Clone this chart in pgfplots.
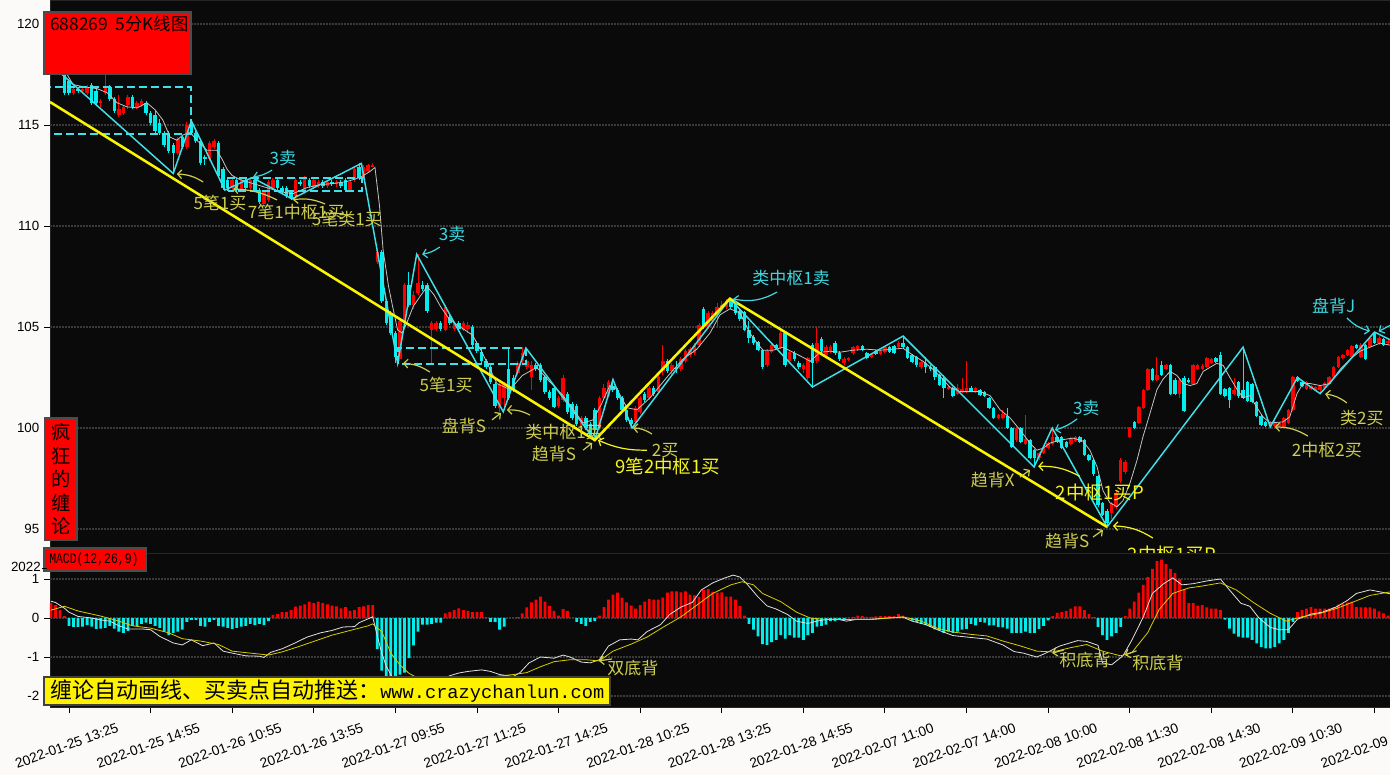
\documentclass[border=0pt]{standalone}
\usepackage{pgfplots}
\pgfplotsset{compat=1.18}
\usepackage{pgfplotstable}
\usepackage{graphicx}
\usepackage{fontspec}
\setmainfont{Liberation Sans}
\newfontfamily\cjk{Noto Sans CJK SC}
\newfontfamily\mono{Liberation Mono}
\usetikzlibrary{arrows.meta}
\definecolor{bg}{RGB}{252,250,248}
\definecolor{panel}{RGB}{10,10,10}
\definecolor{gridc}{RGB}{58,58,58}
\definecolor{kred}{RGB}{255,0,0}
\definecolor{kcyan}{RGB}{0,238,238}
\definecolor{zz}{RGB}{64,224,232}
\definecolor{ylw}{RGB}{250,245,0}
\definecolor{khaki}{RGB}{205,205,80}
\definecolor{bright}{RGB}{245,245,30}
\definecolor{ctext}{RGB}{60,215,225}
\definecolor{maline}{RGB}{195,195,195}
\definecolor{difc}{RGB}{225,225,225}
\definecolor{deac}{RGB}{215,205,0}

\pgfplotstableread{
j o h l c m
-4 118.3 118.6 118.0 118.2 0.38
-3 118.2 118.4 117.7 117.8 0.33
-2 117.8 118.0 117.5 117.6 0.20
-1 117.5 117.6 116.5 116.6 0.05
0 117.2 117.3 116.5 116.6 -0.20
1 116.6 116.9 116.5 116.8 -0.23
2 116.8 116.9 116.6 116.7 -0.23
3 116.7 116.9 116.6 116.8 -0.22
4 116.6 117.0 116.5 116.9 -0.18
5 117.0 117.1 116.0 116.1 -0.22
6 116.7 116.8 116.0 116.1 -0.28
7 116.1 116.3 115.9 116.2 -0.27
8 116.6 117.5 116.5 116.9 -0.25
9 116.9 117.0 116.2 116.3 -0.20
10 116.3 116.4 115.6 115.7 -0.27
11 115.5 116.5 115.4 115.8 -0.35
12 115.6 116.0 115.5 115.9 -0.38
13 116.0 116.5 115.8 116.4 -0.33
14 116.4 116.5 115.8 115.9 -0.20
15 115.9 116.2 115.8 116.1 -0.20
16 116.0 116.3 115.9 116.2 -0.15
17 116.1 116.2 115.5 115.6 -0.12
18 115.6 115.7 115.0 115.1 -0.15
19 115.5 115.7 114.6 114.7 -0.20
20 115.1 115.3 114.5 114.6 -0.25
21 114.6 114.7 113.9 114.0 -0.35
22 114.6 114.7 113.6 113.7 -0.44
23 114.0 114.1 112.6 113.6 -0.38
24 113.6 114.4 113.5 114.3 -0.35
25 114.4 114.5 113.8 113.9 -0.30
26 113.9 115.15 113.8 115.0 -0.10
27 115.1 115.2 114.5 114.6 -0.05
28 114.6 114.7 114.1 114.2 -0.05
29 114.2 114.3 113.0 113.1 -0.20
30 113.4 113.5 113.0 113.3 -0.22
31 113.3 114.2 113.2 114.1 -0.10
32 113.9 114.3 113.8 114.2 -0.05
33 114.1 114.2 112.4 112.5 -0.20
34 112.8 112.9 111.8 111.9 -0.22
35 112.3 112.4 111.85 111.9 -0.25
36 111.9 112.4 111.8 112.3 -0.28
37 112.3 112.4 111.7 111.8 -0.25
38 111.8 112.35 111.7 112.3 -0.22
39 112.3 112.35 111.8 111.9 -0.20
40 111.9 112.4 111.8 112.3 -0.15
41 112.3 112.35 111.7 111.8 -0.18
42 111.8 111.9 111.1 111.2 -0.15
43 111.1 111.8 111.0 111.7 -0.18
44 111.3 112.3 111.2 112.2 -0.08
45 111.9 112.4 111.8 112.3 0.08
46 112.3 112.4 111.8 111.9 0.10
47 111.9 112.0 111.6 111.7 0.15
48 111.9 112.0 111.4 111.5 0.15
49 111.7 111.8 111.3 111.4 0.20
50 111.5 112.4 111.4 112.3 0.29
51 112.2 112.3 112.0 112.1 0.32
52 111.7 112.5 111.6 112.4 0.35
53 112.3 112.4 111.9 112.0 0.42
54 112.0 112.4 111.9 112.3 0.38
55 112.0 112.3 111.9 112.2 0.42
56 112.2 112.3 111.9 112.0 0.38
57 112.0 112.3 111.9 112.2 0.35
58 112.2 112.3 112.0 112.1 0.32
59 112.1 112.3 111.95 112.2 0.30
60 112.2 112.3 111.9 112.0 0.25
61 112.3 112.4 111.7 111.8 0.28
62 111.8 112.3 111.7 112.2 0.18
63 112.3 112.9 112.2 112.8 0.20
64 112.9 113.1 112.3 112.4 0.28
65 112.4 113.0 112.3 112.9 0.30
66 112.7 113.05 112.6 113.0 0.33
67 112.95 113.1 112.9 113.0 0.33
68 108.2 108.8 108.1 108.7 -0.80
69 108.7 108.8 106.2 106.3 -1.35
70 106.3 106.4 105.1 105.2 -1.70
71 105.7 105.8 104.6 104.7 -1.90
72 104.7 104.8 103.2 103.5 -1.80
73 103.4 105.4 103.3 105.3 -1.45
74 105.3 107.2 105.2 107.1 -1.40
75 107.1 107.7 106.0 106.1 -1.03
76 106.1 106.8 105.9 106.6 -0.70
77 106.7 108.6 106.6 107.2 -0.35
78 107.1 107.3 106.8 106.9 -0.17
79 107.1 107.2 105.7 105.8 -0.17
80 104.85 105.3 103.2 105.2 -0.15
81 104.9 105.3 104.8 105.2 -0.12
82 105.2 105.3 104.8 104.9 -0.12
83 104.85 106.1 104.8 106.0 0.12
84 105.5 105.6 105.1 105.2 0.15
85 104.9 105.3 104.8 105.2 0.20
86 105.2 105.3 104.85 104.9 0.25
87 104.85 105.3 104.8 105.2 0.20
88 104.9 105.25 104.7 105.1 0.18
89 105.0 105.1 104.0 104.1 0.15
90 104.2 104.3 103.7 103.8 0.15
91 103.75 103.9 103.2 103.3 0.15
92 103.3 103.4 102.9 103.0 0.02
93 103.0 103.1 102.2 102.3 -0.10
94 102.2 102.3 101.0 101.1 -0.10
95 101.0 102.3 100.8 102.2 -0.30
96 101.5 102.3 101.0 102.2 -0.22
97 102.9 103.9 101.4 101.5 0.00
98 102.5 102.6 101.8 101.9 0.00
99 102.7 103.3 102.6 103.2 0.02
100 103.3 104.0 103.2 103.7 0.12
101 103.0 103.4 102.9 103.3 0.27
102 102.5 103.3 101.9 103.1 0.40
103 103.1 103.2 102.8 102.9 0.47
104 103.1 103.2 102.3 102.4 0.55
105 102.5 102.6 101.7 101.8 0.42
106 101.8 101.9 101.4 101.5 0.31
107 102.0 102.1 101.0 101.05 0.18
108 101.1 101.6 101.0 101.5 0.06
109 101.4 102.6 101.3 102.5 0.23
110 101.7 101.8 100.7 100.8 0.18
111 101.2 101.3 100.4 100.5 0.00
112 101.1 101.2 100.1 100.2 -0.10
113 100.1 100.6 100.0 100.5 -0.15
114 100.5 100.6 99.9 100.0 -0.20
115 100.2 100.3 99.5 99.6 -0.10
116 100.9 101.0 99.4 99.9 -0.08
117 100.0 101.6 99.9 101.5 0.06
118 101.5 102.2 101.4 102.0 0.28
119 101.6 102.4 101.5 102.3 0.47
120 102.1 102.4 101.8 101.9 0.60
121 101.9 102.0 101.4 101.5 0.65
122 101.5 101.6 100.8 100.9 0.52
123 100.9 101.0 100.3 100.4 0.40
124 100.4 100.5 100.0 100.2 0.32
125 100.3 101.1 100.2 101.0 0.24
126 100.8 101.6 100.7 101.5 0.33
127 101.7 101.8 101.3 101.4 0.42
128 101.5 102.1 101.4 102.0 0.49
129 102.0 102.1 101.6 101.7 0.47
130 101.8 102.6 101.7 102.5 0.47
131 102.8 104.1 102.6 103.3 0.52
132 103.3 103.4 102.7 102.8 0.65
133 102.8 103.2 102.6 103.1 0.68
134 103.0 103.3 102.7 102.9 0.68
135 102.9 103.5 102.8 103.4 0.66
136 103.3 103.9 103.2 103.8 0.68
137 103.6 104.0 103.5 103.9 0.60
138 103.7 104.2 103.6 104.1 0.58
139 104.1 105.2 104.0 105.1 0.54
140 105.9 106.0 104.9 105.0 0.72
141 105.0 105.8 104.9 105.7 0.74
142 105.3 105.8 105.2 105.7 0.67
143 105.7 106.2 105.0 106.0 0.65
144 105.9 106.3 105.8 106.1 0.66
145 106.0 106.4 105.9 106.3 0.55
146 106.3 106.4 105.9 106.0 0.55
147 106.2 106.3 105.6 105.7 0.47
148 105.8 105.9 105.3 105.4 0.31
149 105.75 105.8 104.8 104.85 0.06
150 104.85 105.3 104.2 104.45 -0.15
151 104.5 104.6 104.1 104.2 -0.30
152 104.25 104.3 103.8 103.85 -0.47
153 103.85 103.9 102.9 103.0 -0.67
154 103.1 103.9 103.0 103.8 -0.69
155 103.75 104.2 103.7 104.1 -0.62
156 104.1 104.15 103.9 103.95 -0.56
157 103.95 104.8 103.9 104.7 -0.44
158 104.7 104.75 103.0 103.1 -0.53
159 103.3 103.8 103.2 103.75 -0.44
160 103.7 103.8 103.3 103.4 -0.50
161 103.2 103.3 102.9 103.0 -0.50
162 102.9 103.2 102.7 103.1 -0.56
163 102.5 103.5 102.4 103.45 -0.44
164 104.1 104.2 102.0 103.2 -0.38
165 103.3 105.0 103.2 104.2 -0.22
166 104.4 104.5 103.7 103.8 -0.20
167 103.6 104.1 103.5 104.0 -0.17
168 103.8 104.1 103.7 104.0 -0.08
169 104.2 104.3 103.6 103.7 -0.08
170 103.7 103.8 103.3 103.4 -0.04
171 103.2 103.5 103.1 103.4 -0.04
172 103.35 103.5 103.3 103.45 0.01
173 103.7 104.05 103.6 104.0 0.03
174 103.9 104.1 103.8 104.05 0.06
175 104.05 104.1 103.8 103.85 0.05
176 103.7 103.75 103.4 103.45 0.03
177 103.5 103.7 103.45 103.65 0.03
178 103.8 103.85 103.6 103.65 0.04
179 103.65 103.85 103.6 103.8 0.05
180 103.75 104.05 103.7 104.0 0.05
181 104.0 104.05 103.7 103.75 0.05
182 104.05 104.1 103.65 103.7 0.05
183 104.0 104.3 103.9 104.2 0.10
184 104.2 104.55 103.95 104.0 0.06
185 104.0 104.05 103.4 103.45 0.00
186 103.6 103.65 103.2 103.25 -0.07
187 103.5 103.55 103.0 103.1 -0.10
188 103.0 103.3 102.9 103.25 -0.15
189 103.2 103.5 102.7 103.0 -0.18
190 103.0 103.1 102.8 102.9 -0.23
191 103.0 103.05 102.4 102.5 -0.29
192 102.6 102.65 102.1 102.15 -0.32
193 102.5 102.6 101.5 102.0 -0.38
194 101.95 102.1 101.9 102.05 -0.35
195 102.0 102.05 101.55 101.6 -0.38
196 101.7 102.2 101.65 102.0 -0.35
197 101.8 102.5 101.75 101.95 -0.30
198 101.8 103.3 101.75 102.0 -0.28
199 102.0 102.1 101.8 101.85 -0.15
200 101.8 102.05 101.75 102.0 -0.19
201 101.9 101.95 101.6 101.65 -0.10
202 101.8 101.85 101.55 101.6 -0.12
203 101.5 101.55 100.95 101.0 -0.19
204 101.0 101.05 100.45 100.5 -0.19
205 100.5 100.7 100.45 100.65 -0.23
206 100.5 100.9 100.45 100.7 -0.24
207 100.6 101.0 99.95 100.0 -0.27
208 100.0 100.05 99.0 99.05 -0.38
209 99.4 100.05 99.3 100.0 -0.38
210 100.0 100.05 99.25 99.3 -0.38
211 99.2 100.65 99.15 99.45 -0.35
212 99.4 99.45 98.45 98.5 -0.38
213 98.9 98.95 98.07 98.5 -0.38
214 98.5 98.8 98.4 98.75 -0.28
215 98.75 99.05 98.7 99.0 -0.20
216 99.0 99.3 98.95 99.25 -0.06
217 99.2 100.0 99.15 99.55 0.05
218 99.55 99.6 99.25 99.3 0.13
219 99.55 99.6 98.95 99.0 0.15
220 99.3 99.35 99.0 99.05 0.18
221 99.2 99.55 99.15 99.5 0.24
222 99.35 99.6 99.3 99.55 0.30
223 99.55 99.6 99.25 99.3 0.30
224 99.4 99.45 98.6 98.65 0.20
225 98.65 98.7 98.35 98.4 0.10
226 98.4 98.45 97.6 97.7 0.02
227 97.6 97.65 96.1 96.2 -0.23
228 96.3 96.35 95.65 95.7 -0.44
229 95.9 96.0 95.1 95.3 -0.56
230 95.8 96.35 95.5 96.3 -0.47
231 96.1 96.9 96.0 96.8 -0.38
232 97.4 98.5 97.3 98.4 -0.23
233 97.8 98.4 97.7 98.3 0.05
234 99.55 100.05 99.5 100.0 0.24
235 100.3 100.35 99.95 100.0 0.42
236 100.25 101.1 100.2 101.05 0.65
237 101.0 101.95 100.95 101.9 0.85
238 101.9 102.95 101.85 102.9 1.05
239 102.9 102.95 102.35 102.4 1.26
240 102.4 103.5 102.35 102.6 1.46
241 103.1 103.3 102.55 102.6 1.50
242 102.9 103.15 102.85 103.1 1.38
243 103.1 103.15 101.65 101.7 1.26
244 102.4 102.45 101.65 101.7 1.15
245 101.7 102.5 101.5 102.4 1.00
246 102.5 102.55 100.8 100.85 0.74
247 102.4 102.5 102.25 102.3 0.38
248 102.2 103.15 102.15 103.1 0.38
249 102.9 103.15 102.85 103.1 0.32
250 102.9 103.15 102.85 103.05 0.33
251 103.0 103.5 102.95 103.45 0.27
252 103.2 103.45 103.15 103.4 0.24
253 103.45 103.5 103.2 103.25 0.24
254 103.6 103.75 101.65 101.7 0.21
255 101.95 102.0 101.55 101.6 -0.04
256 102.0 102.05 101.0 101.4 -0.27
257 101.7 102.5 101.65 101.9 -0.40
258 102.3 102.35 101.5 101.6 -0.48
259 101.9 104.0 101.45 101.5 -0.50
260 102.3 102.35 101.3 101.35 -0.50
261 102.2 102.25 101.25 101.3 -0.56
262 101.3 101.35 100.55 100.6 -0.65
263 100.6 100.65 100.1 100.15 -0.74
264 100.3 100.35 100.05 100.1 -0.78
265 100.1 100.35 100.05 100.3 -0.78
266 100.1 100.35 100.05 100.3 -0.74
267 100.1 100.3 100.05 100.25 -0.65
268 100.05 100.55 100.0 100.5 -0.56
269 100.25 100.95 100.2 100.9 -0.38
270 100.9 102.55 100.85 102.5 -0.10
271 102.5 102.55 102.3 102.35 0.15
272 102.3 102.35 102.05 102.1 0.20
273 101.95 102.35 101.9 102.3 0.24
274 101.95 102.15 101.9 102.1 0.28
275 101.9 102.1 101.85 102.05 0.24
276 101.9 102.15 101.7 102.1 0.24
277 102.0 102.3 101.95 102.25 0.24
278 102.2 102.55 102.15 102.5 0.24
279 102.5 103.05 102.45 103.0 0.28
280 103.0 103.55 102.95 103.5 0.34
281 103.45 103.65 103.4 103.6 0.37
282 103.6 103.9 103.55 103.85 0.40
283 103.5 104.1 103.45 104.05 0.42
284 104.1 104.15 103.9 103.95 0.28
285 103.5 104.2 103.45 104.1 0.27
286 104.1 104.15 103.35 103.4 0.27
287 104.0 104.5 103.95 104.45 0.27
288 104.7 104.75 104.15 104.2 0.24
289 104.2 104.55 104.1 104.45 0.17
290 104.4 104.45 104.05 104.1 0.12
291 104.2 104.4 104.1 104.3 0.06
}\kdata

\pgfplotstableread{
j v
-4 118.3
-2 117.9
-0.4 117.5
0.9 117.0
3.1 116.9
6.2 116.8
8.4 116.6
10.6 116.1
12.8 115.9
15 115.85
17.2 116.1
19 115.75
20.7 115.25
22.3 114.4
23.8 114.25
25.1 114.5
26.7 114.65
28.2 114.25
30.4 113.75
32.6 113.75
33.8 113.3
34.9 112.8
36 112.5
37.7 112.3
42.1 112.0
46.5 111.7
49.4 111.6
52.5 111.9
55.4 112.05
58.2 112.1
61.3 112.2
64.2 112.4
66.4 112.7
67.5 112.9
68.5 111.0
69.3 108.8
70.5 107.0
71.5 105.9
72.5 104.85
73.5 104.7
74.6 105.25
75.9 106.0
77.4 106.5
79 107.0
80.5 106.6
82 106.0
84 105.35
87 104.9
89 104.6
91 103.8
94.4 102.2
97.3 101.9
100 102.6
103.2 103.0
106 102.3
109 101.6
111 101.0
113.4 100.25
115.6 100.4
117.5 101.2
119.3 102.1
120.9 101.9
123.1 101.0
125.3 100.9
128.2 101.5
132.6 102.7
135.4 103.4
138.5 103.9
141.4 104.7
143.6 105.6
145.8 105.9
148 105.7
150.2 104.7
151.8 104.2
153.1 103.85
155.3 103.85
157.5 104.0
159.7 103.75
161.9 103.5
163.5 103.3
165.7 103.75
167.9 103.8
170.1 103.75
172.9 103.85
176 103.9
178.9 103.85
181.8 103.9
184 103.95
186.2 103.6
188.4 103.3
190.6 102.9
192.8 102.4
194.4 102.0
196.6 101.8
201 101.8
203.2 101.6
205.4 100.9
207.6 100.5
209.8 99.9
212 99.25
213.5 98.9
214.9 99.0
216.4 99.25
218.6 99.4
221.5 99.5
223.7 99.35
225.2 98.9
226.8 98.07
228.1 96.9
229.6 96.3
231.2 96.1
232.5 96.4
234.1 97.3
235.6 98.4
236.9 99.55
238.5 100.75
240 101.9
241.3 102.4
242.9 102.8
244.4 102.6
245.8 102.2
247.3 102.1
248.8 102.2
250.2 102.8
251.7 103.0
253.2 103.2
254.6 103.1
256.1 102.5
257.7 101.9
259 101.5
260.5 101.6
262.1 101.0
263.4 100.55
264.9 100.25
267.8 100.3
269.3 100.55
270.9 101.7
272.2 102.2
273.8 102.2
276 102.1
278.2 102.2
280.4 102.9
282.6 103.4
284.8 103.8
287 104.0
289.2 104.2
291.4 104.1
}\ma

\pgfplotstableread{
j v
-4 0.43
-3 0.40
-1 0.25
0 0.15
2 0.04
5 0.0
7 -0.05
9 -0.08
11 -0.2
13 -0.28
16 -0.28
18 -0.3
20 -0.47
23 -0.64
25 -0.69
27 -0.56
29.5 -0.71
32 -0.64
34 -0.85
36 -0.9
39 -0.97
42 -0.98
43 -1.01
44.5 -0.88
47 -0.79
49.5 -0.66
52.5 -0.49
55.5 -0.38
58 -0.32
60.5 -0.23
63 -0.22
64 -0.12
66 -0.02
67 0.03
68 -0.45
69 -0.9
70 -1.24
71 -1.45
72 -1.7
74 -1.95
76 -2.0
78 -1.9
80 -1.75
82 -1.6
84 -1.48
86 -1.41
88 -1.37
91 -1.33
93 -1.37
95 -1.45
98 -1.5
99.5 -1.4
101.5 -1.15
104 -1.0
107 -1.03
109 -0.95
110.5 -1.0
113 -1.13
115 -1.15
117 -1.07
119 -0.72
121.5 -0.56
124 -0.54
125.5 -0.56
127.5 -0.35
130.5 -0.17
132.5 0.09
135 0.28
137.5 0.4
139.5 0.72
142 0.9
144.5 1.02
146.5 1.1
148 1.05
149.5 0.88
152 0.54
154 0.31
156 0.23
158.5 0.09
160.5 -0.08
163 -0.14
165 -0.08
167 -0.04
169.5 -0.03
171.5 -0.08
174 -0.03
177 -0.03
180.5 0.0
184 0.02
186 -0.08
189 -0.17
192 -0.32
195 -0.45
199 -0.5
202.5 -0.54
206 -0.69
208.5 -0.86
210.5 -0.9
213.5 -1.0
215.5 -0.9
218.5 -0.72
222.5 -0.58
224.5 -0.6
227 -0.7
228 -1.15
230 -1.2
232.5 -0.97
234.5 -0.56
237 0.03
239 0.63
241.5 0.88
243.5 1.03
245.5 0.85
248 0.88
251 0.95
254 1.0
256 0.72
258.5 0.38
260.5 0.3
262.5 0.0
265 -0.24
267 -0.3
269 -0.3
271 -0.03
274 0.1
276.5 0.15
279.5 0.28
282 0.45
284 0.63
287 0.72
291.5 0.62
}\dif

\pgfplotstableread{
j v
-4 0.2
-1 0.3
2 0.18
7 0.05
11 -0.08
14 -0.2
18 -0.26
22 -0.38
25 -0.53
29 -0.59
33 -0.68
36 -0.85
40 -0.9
44 -0.95
47 -0.87
51 -0.72
55 -0.56
58 -0.44
62 -0.32
66 -0.2
67 -0.15
69 -0.35
71 -0.9
73 -1.2
75 -1.42
78 -1.6
82 -1.65
86 -1.6
90 -1.55
94 -1.5
98 -1.45
101 -1.4
104 -1.25
107 -1.12
110.5 -1.07
114 -1.07
117 -1.1
120 -0.85
124 -0.67
127.5 -0.49
131 -0.24
135 0.03
138.5 0.33
142 0.63
146 0.85
148.5 0.93
151 0.85
153 0.63
157 0.42
160.5 0.15
163.5 0.0
166 -0.03
172 -0.04
177 -0.04
184 0.03
188 -0.08
191.5 -0.26
195 -0.36
199 -0.42
202.5 -0.46
206 -0.59
210 -0.72
213.5 -0.85
217 -0.87
221 -0.76
224.5 -0.68
228 -0.85
232 -0.97
234.5 -0.88
238 -0.37
240.5 0.22
243.5 0.63
247 0.77
250 0.82
254 0.9
257.5 0.72
261 0.42
265 0.12
268.5 -0.08
272 0.03
276 0.12
279.5 0.24
283.5 0.42
287 0.58
291.5 0.67
}\dea

\pgfplotsset{
  panelstyle/.style={
    scale only axis, width=1005pt, xmin=-4.19, xmax=291.42,
    axis background/.style={fill=panel},
    axis line style={draw=black!85, line width=0.6pt},
    ymajorgrids,
    grid style={draw=gridc, line width=1.1pt, dash pattern=on 1.5pt off 0.75pt},
    tick align=outside, major tick length=4.5pt,
    tick style={black, line width=0.7pt},
    ytick pos=left,
    tick label style={font=\fontsize{10}{12}\selectfont, text=black},
    /pgf/number format/assume math mode=true,
    unbounded coords=discard,
  }
}
\tikzset{
  kt/.style={text=khaki, font=\cjk\fontsize{12.75}{13}\selectfont, inner sep=0pt},
  bt/.style={text=bright, font=\cjk\fontsize{13.9}{14}\selectfont, inner sep=0pt},
  ct/.style={text=ctext, font=\cjk\fontsize{12.75}{13}\selectfont, inner sep=0pt},
  arr/.style={-{Straight Barb[length=3pt,width=6.5pt]}, line width=0.9pt},
  zbox/.style={draw=zz, line width=1.5pt, dash pattern=on 6pt off 3pt},
}

\begin{document}
\begin{tikzpicture}
\fill[bg] (0,0) rectangle (1042.5pt,581.25pt);
\useasboundingbox (0,0) rectangle (1042.5pt,581.25pt);

% ---------------- candle panel ----------------
\begin{axis}[panelstyle,
  at={(37.5pt,166.5pt)}, anchor=south west, height=414.75pt,
  ymin=93.81, ymax=121.19,
  ytick={95,100,105,110,115,120}, xtick=\empty,
]
% wicks
\addplot[draw=none, forget plot, error bars/.cd, y dir=both, y explicit, error mark=none,
  error bar style={draw=kred, line width=0.75pt}]
  table[x=j, y expr={\thisrow{c}<\thisrow{o} ? nan : (\thisrow{h}+\thisrow{l})/2},
        y error expr={(\thisrow{h}-\thisrow{l})/2}] \kdata;
\addplot[draw=none, forget plot, error bars/.cd, y dir=both, y explicit, error mark=none,
  error bar style={draw=kcyan, line width=0.75pt}]
  table[x=j, y expr={\thisrow{c}<\thisrow{o} ? (\thisrow{h}+\thisrow{l})/2 : nan},
        y error expr={(\thisrow{h}-\thisrow{l})/2}] \kdata;
% bodies
\addplot[draw=none, forget plot, error bars/.cd, y dir=both, y explicit, error mark=none,
  error bar style={draw=kred, line width=2.6pt}]
  table[x=j, y expr={\thisrow{c}<\thisrow{o} ? nan : (\thisrow{o}+\thisrow{c})/2},
        y error expr={max(abs(\thisrow{c}-\thisrow{o})/2,0.03)}] \kdata;
\addplot[draw=none, forget plot, error bars/.cd, y dir=both, y explicit, error mark=none,
  error bar style={draw=kcyan, line width=2.6pt}]
  table[x=j, y expr={\thisrow{c}<\thisrow{o} ? (\thisrow{o}+\thisrow{c})/2 : nan},
        y error expr={max(abs(\thisrow{c}-\thisrow{o})/2,0.03)}] \kdata;
% moving average
\addplot[maline, line width=0.6pt] table[x=j, y=v] \ma;
% bi zigzag
\addplot[zz, line width=1.1pt] coordinates {
(-2,117.6) (23,112.6) (27,115.2) (34.4,111.78) (40.4,112.4) (49.2,111.34) (64.5,113.1)
(72.5,103.2) (76.7,108.6) (95.8,100.8) (100.8,103.96) (116,99.4) (120,102.4) (124.2,100.0)
(145.8,106.4) (164,102.03) (184,104.55) (212.9,98.07) (216.9,100.0) (229,95.1) (259,104.0)
(265,100.05) (271,102.5) (276,101.7) (288,104.75) (292,104.3)};
% zhongshu boxes
\draw[zbox] (axis cs:-6,114.55) rectangle (axis cs:26.9,116.88);
\draw[zbox] (axis cs:35.1,111.73) rectangle (axis cs:64.6,112.38);
\draw[zbox] (axis cs:72.6,103.17) rectangle (axis cs:100.8,103.96);
% segment line
\addplot[ylw, line width=1.9pt] coordinates {(-4.19,116.14) (116,99.4) (145.8,106.4) (229,95.1)};

% annotations
\node[ct] at (axis cs:47.2,113.37) {3卖};
\draw[arr, ctext] (axis cs:44.8,112.77) to[bend left=12] (axis cs:40.6,112.43);
\node[kt] at (axis cs:33.3,111.14) {5笔1买};
\draw[arr, khaki] (axis cs:29.6,112.18) to[bend right=15] (axis cs:23.8,112.57);
\node[kt] at (axis cs:50.1,110.7) {7笔1中枢1买};
\draw[arr, khaki] (axis cs:45.9,111.29) to[bend right=12] (axis cs:36.2,111.83);
\node[kt] at (axis cs:61.3,110.35) {5笔类1买};
\draw[arr, khaki] (axis cs:56.5,111.09) to[bend right=15] (axis cs:49.4,111.3);
\node[ct] at (axis cs:84.5,109.6) {3卖};
\draw[arr, ctext] (axis cs:81.8,108.96) to[bend left=12] (axis cs:77.9,108.6);
\node[kt] at (axis cs:83.2,102.13) {5笔1买};
\draw[arr, khaki] (axis cs:79.6,102.77) to[bend right=15] (axis cs:73.7,103.2);
\node[kt] at (axis cs:87.1,100.1) {盘背S};
\draw[arr, khaki] (axis cs:93.3,100.4) -- (axis cs:95.3,100.74);
\node[kt] at (axis cs:109.2,99.8) {类中枢1买};
\draw[arr, khaki] (axis cs:101.7,100.64) to[bend right=15] (axis cs:96.6,100.89);
\node[kt] at (axis cs:107,98.7) {趋背S};
\draw[arr, khaki] (axis cs:113.4,98.9) -- (axis cs:115.4,99.26);
\node[kt] at (axis cs:131.5,98.9) {2买};
\draw[arr, khaki] (axis cs:128.6,99.7) to[bend right=15] (axis cs:124.4,100.0);
\node[bt] at (axis cs:132.1,98.12) {9笔2中枢1买};
\draw[arr, bright] (axis cs:127.5,98.9) to[bend left=12] (axis cs:116.7,99.4);
\node[ct] at (axis cs:159.3,107.43) {类中枢1卖};
\draw[arr, ctext] (axis cs:156.2,106.73) to[bend left=20] (axis cs:146.5,106.39);
\node[kt] at (axis cs:203.8,97.43) {趋背X};
\draw[arr, khaki] (axis cs:209.8,97.57) -- (axis cs:212,97.92);
\node[bt] at (axis cs:227.4,96.83) {2中枢1买P};
\draw[arr, bright] (axis cs:223,97.6) to[bend right=15] (axis cs:213.8,98.1);
\node[ct] at (axis cs:224.4,101.0) {3卖};
\draw[arr, ctext] (axis cs:222.4,100.45) to[bend left=10] (axis cs:217.5,99.9);
\node[kt] at (axis cs:220.2,94.4) {趋背S};
\draw[arr, khaki] (axis cs:225.9,94.6) -- (axis cs:228.1,94.95);
\node[bt] at (axis cs:243.3,93.75) {2中枢1买P};
\draw[arr, bright] (axis cs:239.1,94.55) to[bend right=15] (axis cs:230.3,95.15);
\node[kt] at (axis cs:277.5,98.9) {2中枢2买};
\draw[arr, khaki] (axis cs:273.3,99.6) to[bend right=15] (axis cs:266,100.05);
\node[kt] at (axis cs:285.2,100.5) {类2买};
\draw[arr, khaki] (axis cs:281.9,101.24) to[bend right=15] (axis cs:277.1,101.68);
\node[ct] at (axis cs:279,106.04) {盘背J};
\draw[arr, ctext] (axis cs:281.9,105.45) to[bend right=15] (axis cs:287,104.8);
\draw[arr, ctext] (axis cs:291.6,105.1) -- (axis cs:288.9,104.78);
\end{axis}

% ---------------- MACD panel ----------------
\begin{axis}[panelstyle,
  at={(37.5pt,51pt)}, anchor=south west, height=115.5pt,
  ymin=-2.282, ymax=1.667,
  ytick={-2,-1,0,1}, yticklabels={-2,-1,0,1},
  xtick={0,18,...,288},
  xticklabels={2022-01-25 13:25,2022-01-25 14:55,2022-01-26 10:55,2022-01-26 13:55,
    2022-01-27 09:55,2022-01-27 11:25,2022-01-27 14:25,2022-01-28 10:25,2022-01-28 13:25,
    2022-01-28 14:55,2022-02-07 11:00,2022-02-07 14:00,2022-02-08 10:00,2022-02-08 11:30,
    2022-02-08 14:30,2022-02-09 10:30,2022-02-09 13:30},
  xtick pos=bottom,
  xticklabel style={rotate=20, anchor=center, xshift=-10pt, yshift=-22.5pt, font=\fontsize{10.3}{12}\selectfont},
]
\addplot[ybar, bar width=2.1pt, bar shift=0pt, fill=kred, draw=none]
  table[x=j, y expr={\thisrow{m}>0 ? \thisrow{m} : nan}] \kdata;
\addplot[ybar, bar width=2.1pt, bar shift=0pt, fill=kcyan, draw=none]
  table[x=j, y expr={\thisrow{m}<0 ? \thisrow{m} : nan}] \kdata;
\addplot[difc, line width=0.6pt] table[x=j, y=v] \dif;
\addplot[deac, line width=0.6pt] table[x=j, y=v] \dea;
\node[kt] at (axis cs:124.4,-1.28) {双底背};
\draw[arr, khaki] (axis cs:119.8,-1.05) -- (axis cs:116.9,-1.1);
\node[kt] at (axis cs:224.1,-1.08) {积底背};
\draw[arr, khaki] (axis cs:219.5,-0.82) -- (axis cs:216.9,-0.9);
\node[kt] at (axis cs:240.2,-1.15) {积底背};
\draw[arr, khaki] (axis cs:235.5,-0.84) -- (axis cs:232.9,-0.95);
\end{axis}

% ---------------- overlay boxes (pixel frame) ----------------
\begin{scope}[x=0.75pt, y=-0.75pt, shift={(0pt,581.25pt)}]
  \draw[fill=kred, draw=black!70, line width=1pt] (44,12) rectangle (191,74);
  \node[anchor=north west, inner sep=0pt, font=\cjk\fontsize{13}{14}\selectfont, text=black]
    at (50,16) {688269\hspace{0.45em}5分K线图};
  \draw[fill=kred, draw=black!70, line width=1pt] (45,418) rectangle (77,540);
  \node[align=center, inner sep=0pt, font=\cjk\fontsize{14.5}{17.6}\selectfont, text=black]
    at (61,479) {疯\\狂\\的\\缠\\论};
  \draw[fill=kred, draw=black!70, line width=0.8pt] (44,548) rectangle (146,571);
  \node[anchor=west, inner sep=0pt, text=black] at (49,560)
    {\scalebox{0.78}[1]{\mono\fontsize{11}{12}\selectfont MACD(12,26,9)}};
  \node[anchor=east, inner sep=0pt, font=\fontsize{10}{12}\selectfont, text=black] at (41,567) {2022};
  \draw[black, line width=0.7pt] (42,568) -- (47,568);
  \draw[fill=yellow, draw=black!75, line width=1.2pt] (44,677) rectangle (610,705);
  \node[anchor=west, inner sep=0pt, text=black] at (50,691)
    {\cjk\fontsize{16.5}{18}\selectfont 缠论自动画线、买卖点自动推送：\mono\fontsize{14}{16}\selectfont www.crazychanlun.com};
\end{scope}
\end{tikzpicture}
\end{document}
